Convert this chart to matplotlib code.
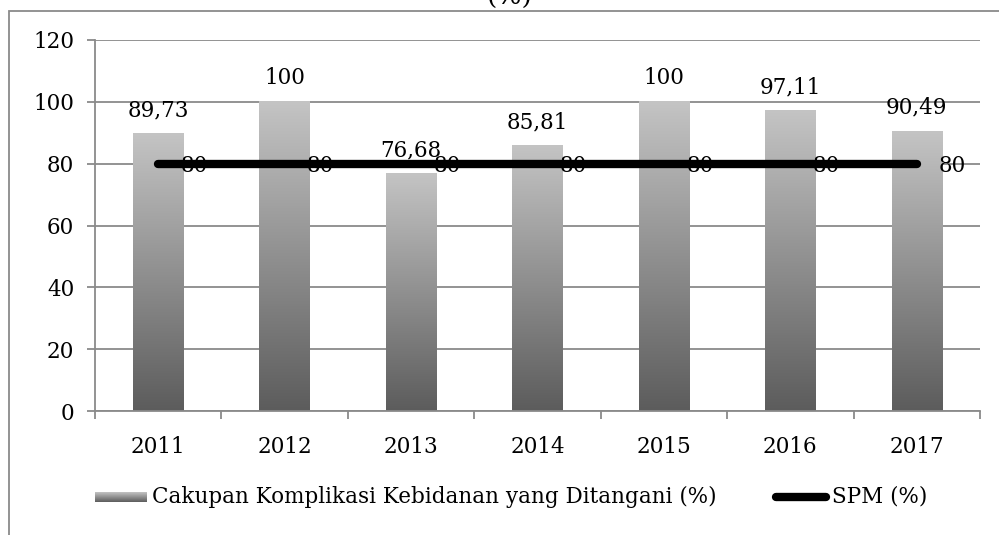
import numpy as np
import matplotlib
matplotlib.use("Agg")
import matplotlib.pyplot as plt
from matplotlib.patches import Rectangle
from matplotlib.lines import Line2D
from matplotlib.colors import LinearSegmentedColormap

years = ["2011", "2012", "2013", "2014", "2015", "2016", "2017"]
cakupan = [89.73, 100, 76.68, 85.81, 100, 97.11, 90.49]
cakupan_labels = ["89,73", "100", "76,68", "85,81", "100", "97,11", "90,49"]
spm = [80, 80, 80, 80, 80, 80, 80]
spm_labels = ["80", "80", "80", "80", "80", "80", "80"]
yticks = [0, 20, 40, 60, 80, 100, 120]

FONT = "DejaVu Serif"
FS = 15.5
plt.rcParams['font.family'] = [FONT]

W, H = 999, 535
fig = plt.figure(figsize=(W / 100, H / 100), dpi=100)

def fx(px):
    return px / W

def fy(py):
    return 1 - py / H

# outer frame (cropped)
fig.add_artist(Rectangle((fx(9), fy(545)), fx(1010 - 9), (545 - 11) / H,
                         transform=fig.transFigure, fill=False,
                         edgecolor="#8a8a8a", linewidth=1.3, clip_on=False))
# cropped title
fig.text(fx(510), fy(10), "(%)", ha="center", va="bottom", fontsize=19)

ax = fig.add_axes([fx(95), fy(411), fx(980 - 95), (411 - 40) / H])
x = np.arange(len(years))
cmap = LinearSegmentedColormap.from_list("g", ["#5c5c5c", "#c4c4c4"])
grad = np.linspace(0, 1, 256).reshape(-1, 1)

bars = ax.bar(x, cakupan, width=0.4, color="none", edgecolor="none", zorder=2)
for b in bars:
    x0, w, h = b.get_x(), b.get_width(), b.get_height()
    ax.imshow(grad, extent=[x0, x0 + w, 0, h], origin="lower", cmap=cmap,
              aspect="auto", zorder=2, interpolation="bicubic")

ax.plot(x, spm, color="black", linewidth=6, solid_capstyle="round", zorder=3)

for xi, v, lab in zip(x, cakupan, cakupan_labels):
    ax.annotate(lab, (xi, v), xytext=(0, 9), textcoords="offset points",
                ha="center", va="bottom", fontsize=FS, zorder=4)
for xi, v, lab in zip(x, spm, spm_labels):
    ax.annotate(lab, (xi, v), xytext=(16, -2), textcoords="offset points",
                ha="left", va="center", fontsize=FS, zorder=4)

ax.set_xlim(-0.5, len(years) - 0.5)
ax.set_ylim(0, 120)
ax.set_yticks(yticks)
ax.set_yticklabels([str(t) for t in yticks], fontsize=FS)
ax.set_xticks(x)
ax.set_xticklabels(years, fontsize=FS)
ax.set_xticks(np.arange(len(years) + 1) - 0.5, minor=True)
ax.tick_params(axis="x", which="major", length=0, pad=18)
ax.tick_params(axis="x", which="minor", length=6, width=1.3, color="#8a8a8a", direction="out")
ax.tick_params(axis="y", length=6, width=1.3, color="#8a8a8a", pad=9)
ax.yaxis.grid(True, color="#8a8a8a", linewidth=1.3, zorder=0)
ax.set_axisbelow(True)
for s in ["top", "right"]:
    ax.spines[s].set_visible(False)
for s in ["left", "bottom"]:
    ax.spines[s].set_color("#8a8a8a")
    ax.spines[s].set_linewidth(1.3)

# legend
ly = 497
lax = fig.add_axes([fx(95), fy(ly + 5), fx(147 - 95), 10 / H])
lax.imshow(grad, extent=[0, 1, 0, 1], origin="lower", cmap=cmap, aspect="auto")
lax.set_axis_off()
fig.text(fx(152), fy(ly), "Cakupan Komplikasi Kebidanan yang Ditangani (%)",
         ha="left", va="center", fontsize=FS)
fig.add_artist(Line2D([fx(776), fx(826)], [fy(ly), fy(ly)], transform=fig.transFigure,
                      color="black", linewidth=6, solid_capstyle="round"))
fig.text(fx(832), fy(ly), "SPM (%)", ha="left", va="center", fontsize=FS)

fig.savefig("out.png", dpi=100)
